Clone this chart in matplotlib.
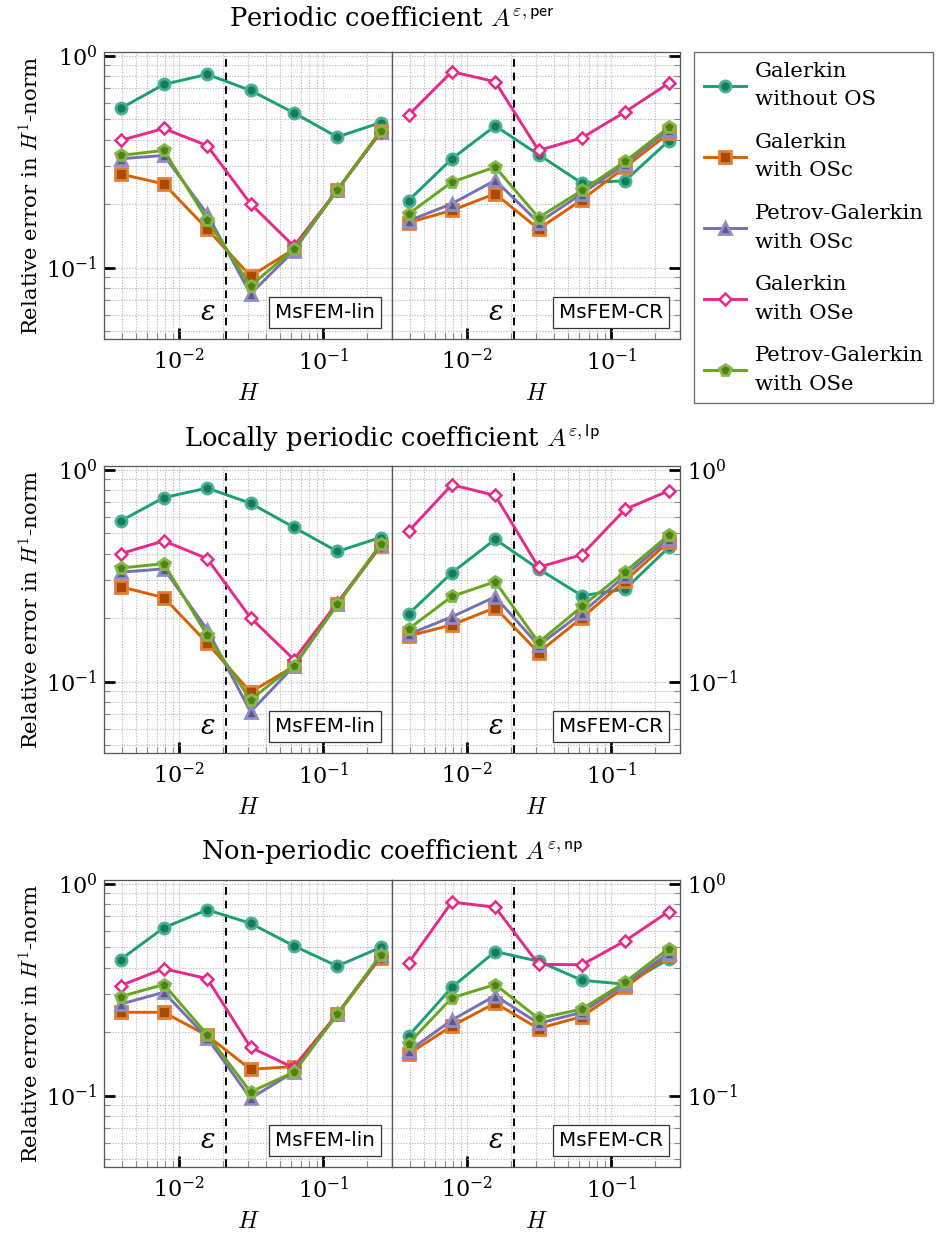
import numpy as np
import matplotlib
matplotlib.use("Agg")
import matplotlib.pyplot as plt
from matplotlib.ticker import LogLocator, NullFormatter
import matplotlib.colors as mcolors

plt.rcParams["font.family"] = ["DejaVu Serif"]
plt.rcParams["mathtext.fontset"] = "cm"

# ---------------- data ----------------
H = [1/256, 1/128, 1/64, 1/32, 1/16, 1/8, 1/4]
EPS = 0.021

methods = ["Galerkin\nwithout OS", "Galerkin\nwith OSc", "Petrov-Galerkin\nwith OSc",
           "Galerkin\nwith OSe", "Petrov-Galerkin\nwith OSe"]

row_titles = [r"Periodic coefficient $A^{\varepsilon,\mathsf{per}}$",
              r"Locally periodic coefficient $A^{\varepsilon,\mathsf{lp}}$",
              r"Non-periodic coefficient $A^{\varepsilon,\mathsf{np}}$"]
panel_labels = ["MsFEM-lin", "MsFEM-CR"]

# periodic, MsFEM-lin
per_lin_g     = [0.563, 0.731, 0.816, 0.685, 0.537, 0.413, 0.483]
per_lin_g_osc = [0.276, 0.248, 0.152, 0.091, 0.122, 0.232, 0.440]
per_lin_pg_osc= [0.326, 0.338, 0.179, 0.075, 0.120, 0.232, 0.437]
per_lin_g_ose = [0.398, 0.453, 0.376, 0.200, 0.126, 0.232, 0.434]
per_lin_pg_ose= [0.338, 0.357, 0.168, 0.082, 0.122, 0.232, 0.440]
# periodic, MsFEM-CR
per_cr_g      = [0.207, 0.326, 0.466, 0.341, 0.250, 0.257, 0.396]
per_cr_g_osc  = [0.163, 0.186, 0.223, 0.152, 0.209, 0.298, 0.429]
per_cr_pg_osc = [0.166, 0.200, 0.258, 0.163, 0.223, 0.309, 0.448]
per_cr_g_ose  = [0.524, 0.840, 0.753, 0.357, 0.409, 0.543, 0.740]
per_cr_pg_ose = [0.179, 0.253, 0.298, 0.172, 0.231, 0.317, 0.458]

# locally periodic, MsFEM-lin
lp_lin_g      = [0.572, 0.738, 0.818, 0.694, 0.534, 0.411, 0.478]
lp_lin_g_osc  = [0.280, 0.249, 0.152, 0.089, 0.118, 0.232, 0.435]
lp_lin_pg_osc = [0.328, 0.340, 0.176, 0.072, 0.118, 0.232, 0.440]
lp_lin_g_ose  = [0.401, 0.461, 0.380, 0.200, 0.127, 0.235, 0.440]
lp_lin_pg_ose = [0.343, 0.360, 0.165, 0.082, 0.119, 0.231, 0.445]
# locally periodic, MsFEM-CR
lp_cr_g       = [0.208, 0.326, 0.469, 0.340, 0.254, 0.273, 0.429]
lp_cr_g_osc   = [0.164, 0.185, 0.223, 0.137, 0.200, 0.299, 0.456]
lp_cr_pg_osc  = [0.167, 0.202, 0.251, 0.148, 0.211, 0.316, 0.473]
lp_cr_g_ose   = [0.512, 0.848, 0.755, 0.346, 0.397, 0.650, 0.794]
lp_cr_pg_ose  = [0.177, 0.252, 0.296, 0.153, 0.226, 0.330, 0.490]

# non-periodic, MsFEM-lin
np_lin_g      = [0.438, 0.619, 0.752, 0.650, 0.508, 0.408, 0.500]
np_lin_g_osc  = [0.247, 0.247, 0.192, 0.133, 0.137, 0.242, 0.448]
np_lin_pg_osc = [0.270, 0.307, 0.187, 0.097, 0.129, 0.242, 0.459]
np_lin_g_ose  = [0.330, 0.397, 0.356, 0.169, 0.135, 0.242, 0.454]
np_lin_pg_ose = [0.293, 0.334, 0.194, 0.104, 0.129, 0.242, 0.459]
# non-periodic, MsFEM-CR
np_cr_g       = [0.191, 0.324, 0.478, 0.430, 0.350, 0.335, 0.440]
np_cr_g_osc   = [0.157, 0.213, 0.273, 0.207, 0.236, 0.324, 0.459]
np_cr_pg_osc  = [0.162, 0.227, 0.296, 0.219, 0.247, 0.336, 0.470]
np_cr_g_ose   = [0.422, 0.818, 0.774, 0.416, 0.414, 0.537, 0.738]
np_cr_pg_ose  = [0.176, 0.289, 0.334, 0.231, 0.256, 0.343, 0.494]

rows = [
    [[per_lin_g, per_lin_g_osc, per_lin_pg_osc, per_lin_g_ose, per_lin_pg_ose],
     [per_cr_g, per_cr_g_osc, per_cr_pg_osc, per_cr_g_ose, per_cr_pg_ose]],
    [[lp_lin_g, lp_lin_g_osc, lp_lin_pg_osc, lp_lin_g_ose, lp_lin_pg_ose],
     [lp_cr_g, lp_cr_g_osc, lp_cr_pg_osc, lp_cr_g_ose, lp_cr_pg_ose]],
    [[np_lin_g, np_lin_g_osc, np_lin_pg_osc, np_lin_g_ose, np_lin_pg_ose],
     [np_cr_g, np_cr_g_osc, np_cr_pg_osc, np_cr_g_ose, np_cr_pg_ose]],
]

# ---------------- style ----------------
colors = ["#1b9e77", "#d95f02", "#7570b3", "#e7298a", "#66a61e"]
markers = ["o", "s", "^", "D", "p"]
msizes = [8, 8, 8.5, 6, 8.5]

def darker(c, f=0.78):
    r, g, b = mcolors.to_rgb(c)
    return (r * f, g * f, b * f)

def lighter(c, f=0.25):
    r, g, b = mcolors.to_rgb(c)
    return (r + (1 - r) * f, g + (1 - g) * f, b + (1 - b) * f)

W, Hpx = 936, 1233
fig = plt.figure(figsize=(W / 100, Hpx / 100), dpi=100)

def fx(px):
    return px / W

def fy(py):
    return 1 - py / Hpx

row_tops = [52, 466, 880]
ax_h = 287
x_left = 104
ax_w = 288
title_y = [19, 438, 851]

spine_col = "#555555"
handles = None
for r in range(3):
    top = row_tops[r]
    for c in range(2):
        left = x_left + c * ax_w
        ax = fig.add_axes([fx(left), fy(top + ax_h), fx(ax_w), ax_h / Hpx])
        ax.set_xscale("log")
        ax.set_yscale("log")
        ax.set_xlim(0.003, 0.3)
        ax.set_ylim(0.046, 1.04)
        ax.grid(True, which="both", ls=(0, (1, 1.5)), color="#b5b5b5", lw=0.8)
        ax.set_axisbelow(True)
        ax.axvline(EPS, color="black", ls=(0, (4, 3)), lw=1.4, zorder=1.5)
        hs = []
        for k in range(5):
            col = colors[k]
            if markers[k] == "D":
                mfc, mec, mew = "white", col, 1.8
            else:
                mfc, mec, mew = darker(col), lighter(col, 0.2), 2.0
            h, = ax.plot(H, rows[r][c][k], color=col, lw=2.1, marker=markers[k],
                         ms=msizes[k], mfc=mfc, mec=mec, mew=mew, label=methods[k],
                         zorder=3 + k * 0.1)
            hs.append(h)
        handles = hs
        for s in ax.spines.values():
            s.set_color(spine_col)
            s.set_linewidth(0.9)
        ax.xaxis.set_major_locator(LogLocator(base=10, numticks=10))
        ax.xaxis.set_minor_locator(LogLocator(base=10, subs=np.arange(2, 10), numticks=20))
        ax.yaxis.set_major_locator(LogLocator(base=10, numticks=10))
        ax.yaxis.set_minor_locator(LogLocator(base=10, subs=np.arange(2, 10), numticks=20))
        ax.yaxis.set_minor_formatter(NullFormatter())
        ax.xaxis.set_minor_formatter(NullFormatter())
        ax.tick_params(which="major", direction="in", length=8, width=2, color="black",
                       labelsize=16, top=False, pad=7)
        ax.tick_params(which="minor", direction="in", length=4, width=0.8,
                       color="#888888", top=False)
        if c == 0:
            ax.tick_params(axis="y", which="both", left=True, right=False,
                           labelleft=True, labelright=False, pad=5)
            ax.set_ylabel(r"Relative error in $H^1$-norm", fontsize=15.3, labelpad=3)
        else:
            ax.tick_params(axis="y", which="both", left=False, right=True,
                           labelleft=False, labelright=(r > 0), pad=5)
        ax.set_xlabel(r"$H$", fontsize=17, labelpad=5)
        ax.text(0.942, 0.058, panel_labels[c], transform=ax.transAxes, ha="right",
                va="bottom", fontsize=14.3, family="DejaVu Sans",
                bbox=dict(boxstyle="square,pad=0.3", fc="white", ec="#333333", lw=0.9),
                zorder=10)
        ax.text(EPS / 1.33, 0.094, "ε", transform=ax.get_xaxis_transform(),
                ha="center", va="center", fontsize=19.5, fontstyle="italic", zorder=10)
    fig.text(fx(x_left + ax_w), fy(title_y[r]), row_titles[r], ha="center", va="center",
             fontsize=18.5)

leg = fig.legend(handles=handles, labels=methods, loc="upper left",
                 bbox_to_anchor=(fx(694), fy(52)), borderaxespad=0, fontsize=15.3,
                 frameon=True, fancybox=False, edgecolor="#444444", handlelength=2.0,
                 labelspacing=1.1, borderpad=0.45, handletextpad=0.4)
leg.get_frame().set_linewidth(0.9)
for t in leg.get_texts():
    t.set_linespacing(1.65)

fig.savefig("out.png", dpi=100)
